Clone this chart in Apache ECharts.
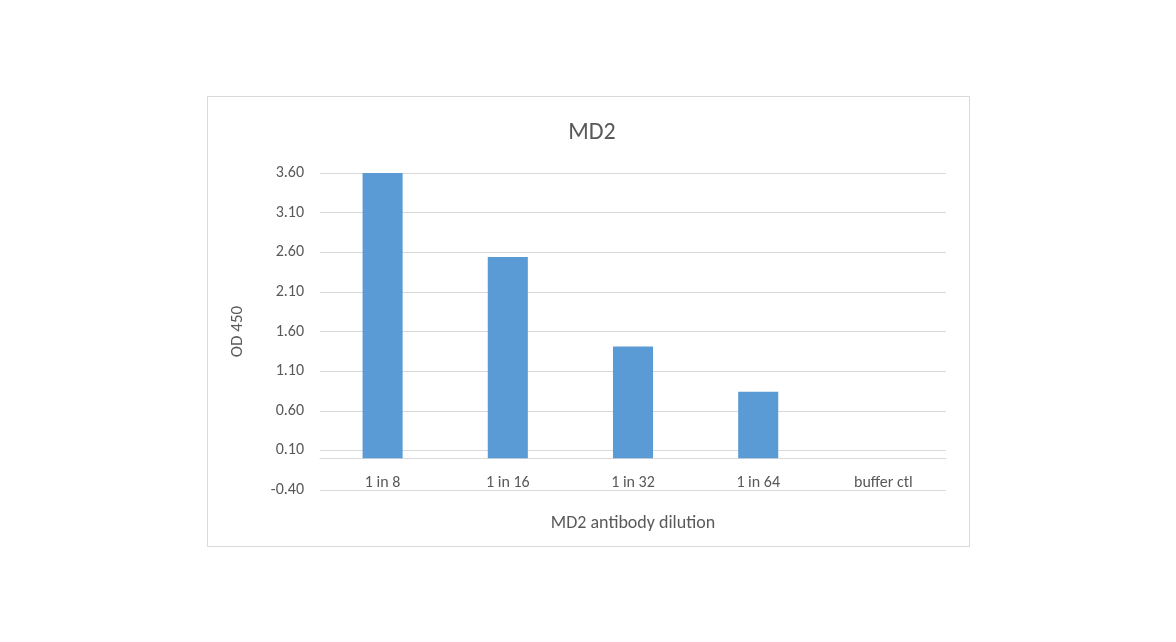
<!DOCTYPE html>
<html><head><meta charset="utf-8">
<script src="https://cdn.jsdelivr.net/npm/echarts@6/dist/echarts.min.js"></script>
<style>html,body{margin:0;padding:0;background:#fff}#c{width:1176px;height:642px}
#box{position:absolute;left:207px;top:96px;width:761px;height:449px;border:1px solid #d9d9d9;pointer-events:none}</style>
</head><body><div id="c"></div><div id="box"></div>
<script>
const categories = ['1 in 8','1 in 16','1 in 32','1 in 64','buffer ctl'];
const values = [3.60, 2.54, 1.41, 0.84, 0.0];
const chart = echarts.init(document.getElementById('c'));
const font = 'Calibri, Carlito, "Liberation Sans", sans-serif';
chart.setOption({
  animation:false,
  title:{text:'MD2',left:587,top:116,textAlign:'center',textStyle:{fontFamily:font,fontSize:24,fontWeight:'normal',color:'#595959'}},
  grid:{left:320,right:230,top:173,bottom:152},
  xAxis:{type:'category',data:categories,
    name:'MD2 antibody dilution',nameLocation:'middle',nameGap:24,
    nameTextStyle:{fontFamily:font,fontSize:18,color:'#595959'},
    axisLine:{onZero:true,lineStyle:{color:'#d9d9d9'}},axisTick:{show:false},
    axisLabel:{margin:-15,fontFamily:font,fontSize:16,color:'#595959'}},
  yAxis:{type:'value',min:-0.4,max:3.6,interval:0.5,
    name:'OD 450',nameLocation:'middle',nameGap:74,nameRotate:90,
    nameTextStyle:{fontFamily:font,fontSize:17,color:'#595959'},
    axisLine:{show:false},axisTick:{show:false},
    axisLabel:{fontFamily:font,fontSize:16,color:'#595959',margin:16,formatter:v=>v.toFixed(2)},
    splitLine:{lineStyle:{color:'#d9d9d9'}}},
  series:[{type:'bar',data:values,barWidth:'32%',itemStyle:{color:'#5b9bd5'}}]
});
</script></body></html>
